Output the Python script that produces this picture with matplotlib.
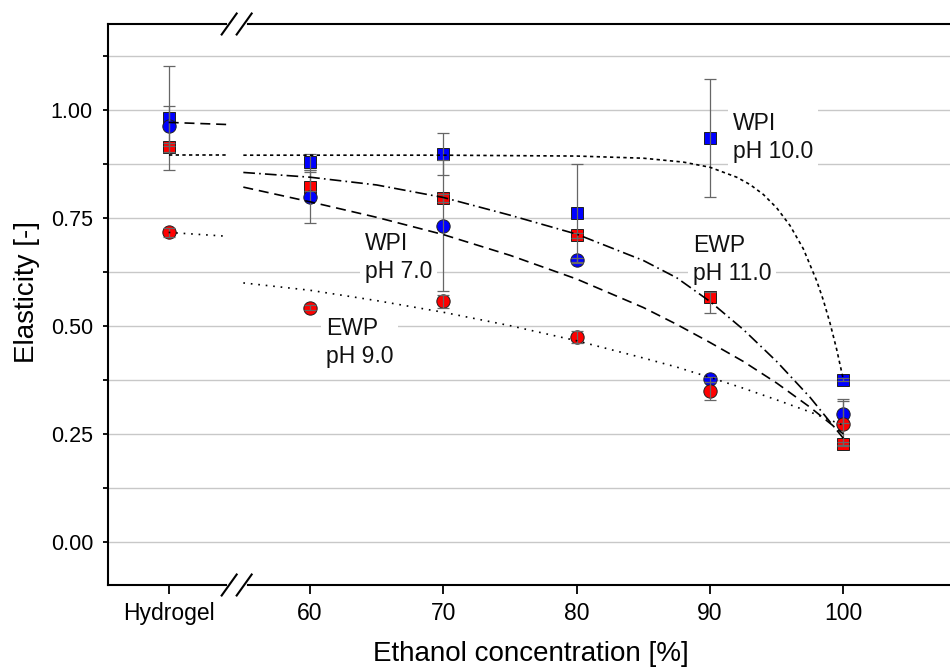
import matplotlib
matplotlib.use("Agg")
import matplotlib.pyplot as plt
import matplotlib.transforms as mtransforms
from matplotlib.ticker import MultipleLocator, FormatStrFormatter, FixedLocator, FixedFormatter

plt.rcParams['font.family'] = ['Liberation Sans', 'DejaVu Sans']

# ---------------- data ----------------
x_labels = ["Hydrogel", "60", "70", "80", "90", "100"]
x_pos = [49.4, 60, 70, 80, 90, 100]
x_break = 54.5

# WPI pH 10.0 (blue squares)
wpi10 = [0.982, 0.880, 0.898, 0.762, 0.936, 0.376]
wpi10_err_lo = [0.121, 0.018, 0.049, 0.114, 0.136, 0.004]
wpi10_err_hi = [0.121, 0.018, 0.049, 0.114, 0.136, 0.004]
# WPI pH 7.0 (blue circles)
wpi7 = [0.963, 0.800, 0.733, 0.652, 0.377, 0.296]
wpi7_err_lo = [0.046, 0.061, 0.151, 0.006, 0.006, 0.020]
wpi7_err_hi = [0.046, 0.061, 0.151, 0.006, 0.006, 0.036]
# EWP pH 11.0 (red squares)
ewp11 = [0.914, 0.822, 0.797, 0.710, 0.568, 0.227]
ewp11_err_lo = [0.011, 0.010, 0.010, 0.005, 0.038, 0.005]
ewp11_err_hi = [0.011, 0.034, 0.010, 0.005, 0.012, 0.005]
# EWP pH 9.0 (red circles)
ewp9 = [0.717, 0.543, 0.557, 0.474, 0.350, 0.274]
ewp9_err_lo = [0.010, 0.006, 0.015, 0.014, 0.021, 0.050]
ewp9_err_hi = [0.010, 0.006, 0.015, 0.014, 0.021, 0.052]

# fitted curves
fit_x = [55, 60, 65, 70, 75, 80, 85, 87.5, 90, 92.5, 95, 97.5, 100]
wpi7_fit = [0.822, 0.788, 0.752, 0.712, 0.664, 0.609, 0.543, 0.504, 0.462, 0.418, 0.368, 0.312, 0.250]
ewp11_fit = [0.856, 0.845, 0.827, 0.798, 0.757, 0.713, 0.652, 0.612, 0.557, 0.492, 0.418, 0.335, 0.240]
ewp9_fit = [0.600, 0.583, 0.559, 0.532, 0.501, 0.466, 0.426, 0.405, 0.381, 0.356, 0.329, 0.301, 0.270]
wpi10_fit_x = [55, 70, 80, 85, 88, 90, 92, 93, 94, 95, 96, 97, 98, 98.5, 99, 99.5, 100]
wpi10_fit = [0.896, 0.896, 0.894, 0.889, 0.880, 0.868, 0.845, 0.828, 0.805, 0.774, 0.733,
             0.679, 0.605, 0.560, 0.507, 0.446, 0.376]

# short fit segments in the hydrogel section
hyd_seg_x = [49.4, 53.85]
wpi7_hyd = [0.972, 0.967]
wpi10_hyd = [0.896, 0.896]
ewp9_hyd = [0.717, 0.708]

labels_text = ["WPI\npH 10.0", "EWP\npH 11.0", "WPI\npH 7.0", "EWP\npH 9.0"]
labels_x = [91.73, 88.73, 64.13, 61.2]
labels_y = [0.936, 0.655, 0.660, 0.463]

# ---------------- figure ----------------
fig = plt.figure(figsize=(9.5, 6.68), dpi=100)
ax = fig.add_axes([108 / 950, 83 / 668, 842 / 950, 561 / 668])
ax.set_xlim(44.85, 108.0)
ax.set_ylim(-0.1, 1.2)

BLUE = '#0000ff'
RED = '#ff0000'
EDGE = '#202020'
ERR = '#666666'

# markers
ax.plot(x_pos, wpi10, ls='none', marker='s', ms=8.6, mfc=BLUE, mec=EDGE, mew=0.7, zorder=3.0)
ax.plot(x_pos, ewp11, ls='none', marker='s', ms=8.6, mfc=RED, mec=EDGE, mew=0.7, zorder=3.1)
ax.plot(x_pos, wpi7, ls='none', marker='o', ms=9.6, mfc=BLUE, mec=EDGE, mew=0.7, zorder=3.2)
ax.plot(x_pos, ewp9, ls='none', marker='o', ms=9.6, mfc=RED, mec=EDGE, mew=0.7, zorder=3.3)

# error bars
for vals, lo, hi in [(wpi10, wpi10_err_lo, wpi10_err_hi),
                     (ewp11, ewp11_err_lo, ewp11_err_hi),
                     (wpi7, wpi7_err_lo, wpi7_err_hi),
                     (ewp9, ewp9_err_lo, ewp9_err_hi)]:
    ax.errorbar(x_pos, vals, yerr=[lo, hi], fmt='none', ecolor=ERR, elinewidth=0.9,
                capsize=4, capthick=0.9, zorder=4)

# fit curves
LW = 1.2
ls_wpi10 = (0, (2.0, 2.0))
ls_wpi7 = (0, (6.0, 3.5))
ls_ewp11 = (0, (7.0, 2.5, 1.0, 2.5))
ls_ewp9 = (0, (1.0, 3.5))
ax.plot(wpi10_fit_x, wpi10_fit, color='k', lw=LW, ls=ls_wpi10, zorder=4.5)
ax.plot(fit_x, wpi7_fit, color='k', lw=LW, ls=ls_wpi7, zorder=4.5)
ax.plot(fit_x, ewp11_fit, color='k', lw=LW, ls=ls_ewp11, zorder=4.5)
ax.plot(fit_x, ewp9_fit, color='k', lw=LW, ls=ls_ewp9, zorder=4.5)
ax.plot(hyd_seg_x, wpi7_hyd, color='k', lw=LW, ls=ls_wpi7, zorder=4.5)
ax.plot(hyd_seg_x, wpi10_hyd, color='k', lw=LW, ls=ls_wpi10, zorder=4.5)
ax.plot(hyd_seg_x, ewp9_hyd, color='k', lw=LW, ls=ls_ewp9, zorder=4.5)

# annotations
for t, xx, yy in zip(labels_text, labels_x, labels_y):
    ax.text(xx, yy, t, ha='left', va='center', fontsize=16.5, linespacing=1.28,
            color='#111111', zorder=1.5,
            bbox=dict(boxstyle='square,pad=0.2', facecolor='white', edgecolor='none'))

# axes styling
ax.set_axisbelow(True)
ax.yaxis.set_major_locator(MultipleLocator(0.25))
ax.yaxis.set_minor_locator(MultipleLocator(0.125))
ax.yaxis.set_major_formatter(FormatStrFormatter('%.2f'))
ax.grid(axis='y', which='both', color='#c8c8c8', lw=1.0)
ax.xaxis.set_major_locator(FixedLocator(x_pos))
ax.xaxis.set_major_formatter(FixedFormatter(x_labels))
ax.tick_params(axis='y', which='both', direction='out', length=3.8, width=1.3,
               labelsize=15.5, pad=7, colors='black')
ax.tick_params(axis='x', which='major', direction='out', length=6.5, width=1.3,
               labelsize=16.5, pad=6, colors='black')
ax.spines['right'].set_visible(False)
for s in ('left', 'bottom', 'top'):
    ax.spines[s].set_linewidth(1.5)
    ax.spines[s].set_color('black')

ax.set_xlabel('Ethanol concentration [%]', fontsize=20)
ax.xaxis.set_label_coords(0.502, -0.099)
ax.set_ylabel('Elasticity [-]', fontsize=20)
ax.yaxis.set_label_coords(-0.081, 0.522)

# axis-break marks
btrans = mtransforms.blended_transform_factory(ax.transData, ax.transAxes)
for yy in (0.0, 1.0):
    off = fig.dpi_scale_trans + mtransforms.ScaledTranslation(x_break, yy, btrans)
    ax.add_line(plt.Line2D([-0.075, 0.075], [0, 0], transform=off, color='white',
                           lw=3.5, clip_on=False, zorder=6))
    for dx in (-0.075, 0.075):
        ax.add_line(plt.Line2D([dx - 0.075, dx + 0.075], [-0.105, 0.105], transform=off,
                               color='black', lw=1.5, clip_on=False, zorder=7))

fig.savefig('out.png', dpi=100)
